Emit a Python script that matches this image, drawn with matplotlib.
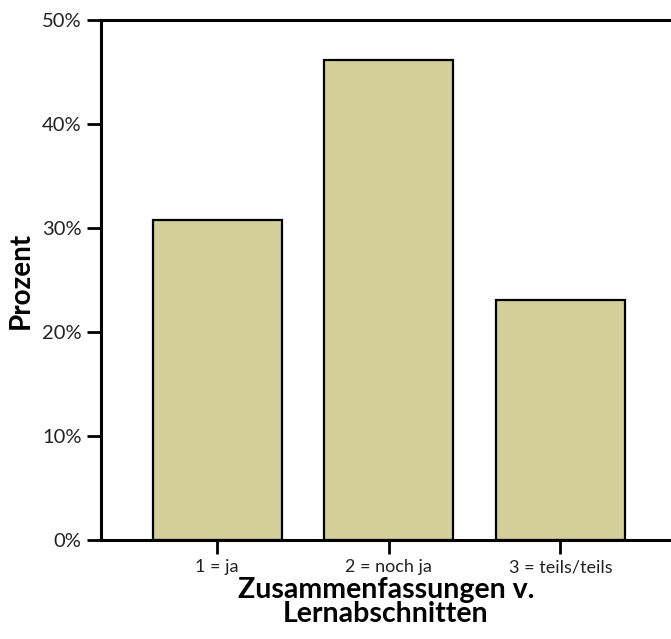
import matplotlib
matplotlib.use("Agg")
import matplotlib.pyplot as plt
from matplotlib.ticker import PercentFormatter

categories = ["1 = ja", "2 = noch ja", "3 = teils/teils"]
percent = [30.77, 46.15, 23.08]

plt.rcParams["font.family"] = ["Lato", "DejaVu Sans"]

fig = plt.figure(figsize=(6.71, 6.39), dpi=100)
ax = fig.add_axes([101 / 671, 99 / 639, 570 / 671, 520 / 639])

x = range(len(categories))
ax.bar(x, percent, width=0.75, color="#D3CE9A", edgecolor="black", linewidth=1.6, zorder=2)

ax.set_xlim(-0.677, 2.645)
ax.set_ylim(0, 50)
ax.set_xticks(list(x))
ax.set_xticklabels(categories, fontsize=13, color="#222222")
ax.set_yticks([0, 10, 20, 30, 40, 50])
ax.yaxis.set_major_formatter(PercentFormatter(decimals=0))
ax.tick_params(axis="y", labelsize=14.5, labelcolor="#222222", length=10, width=2, pad=4)
ax.tick_params(axis="x", length=10, width=2, pad=4)

for side in ["left", "bottom", "top"]:
    ax.spines[side].set_linewidth(2.2)
ax.spines["right"].set_visible(False)

ax.set_xlabel("Zusammenfassungen v.\nLernabschnitten", fontsize=20.5, fontweight="bold",
              linespacing=0.9, labelpad=1)
ax.set_ylabel("Prozent", fontsize=20, fontweight="bold", labelpad=6)

fig.savefig("out.png", dpi=100)
